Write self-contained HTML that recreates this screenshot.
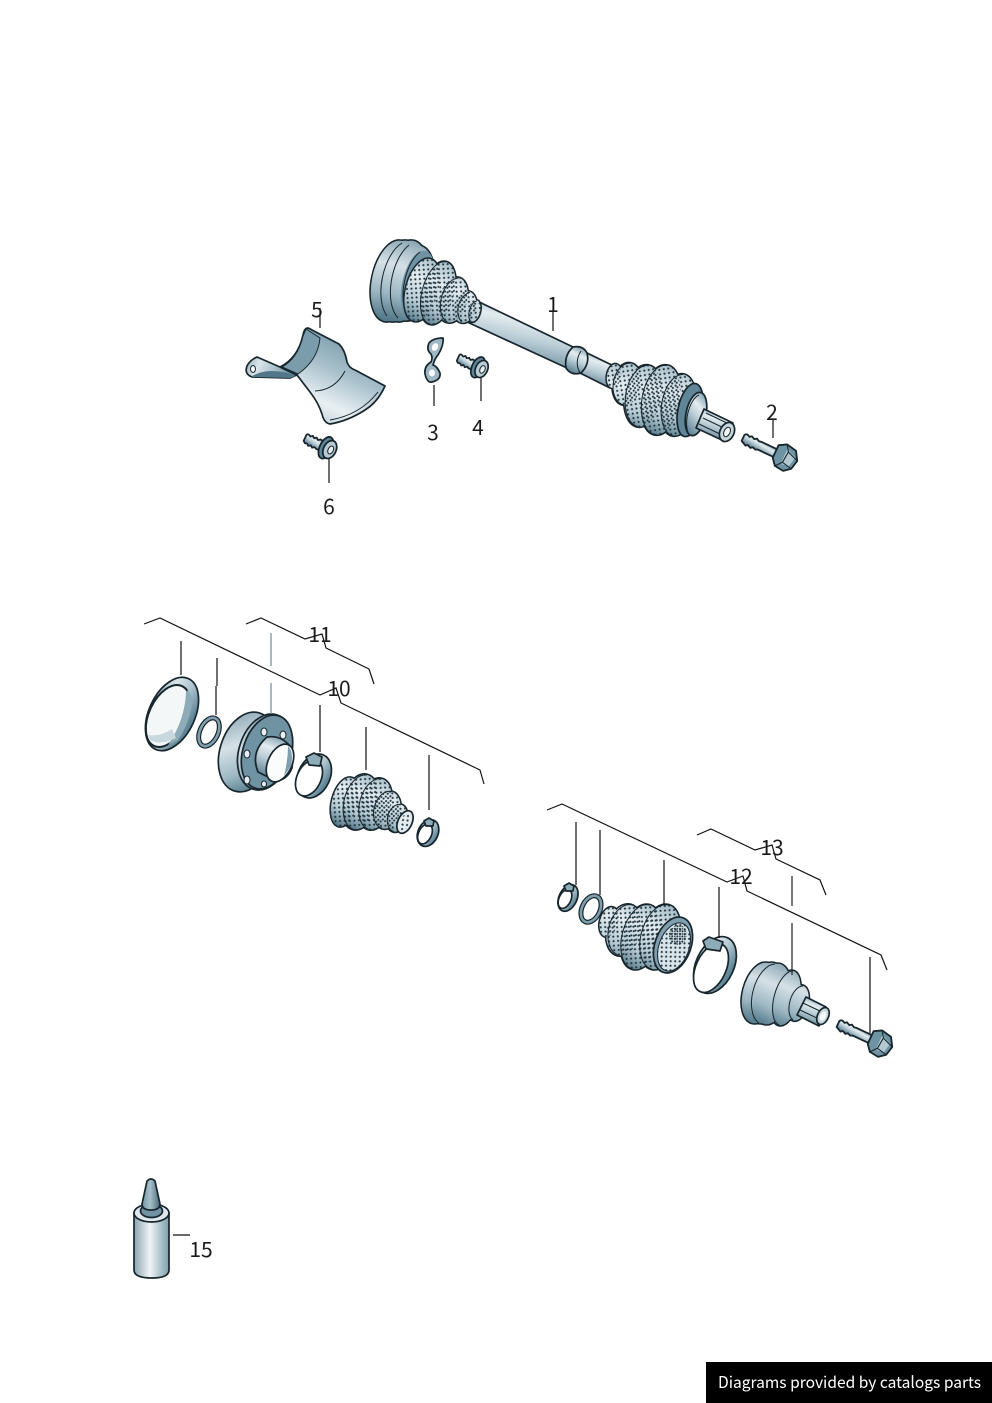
<!DOCTYPE html>
<html><head><meta charset="utf-8"><style>
html,body{margin:0;padding:0;background:#fff}
svg{display:block}
text{font-family:"Noto Sans CJK SC","DejaVu Sans","Liberation Sans",sans-serif;font-size:21px;fill:#1a1a1a}
.o{stroke:#17252c;stroke-width:1.7;stroke-linejoin:round}
.t{stroke:#17252c;stroke-width:1;fill:none}
.l{stroke:#111;stroke-width:1.2;fill:none}
</style></head><body>
<svg width="992" height="1403" viewBox="0 0 992 1403" xmlns="http://www.w3.org/2000/svg">
<defs>
<linearGradient id="g" x1=".65" y1="0" x2=".3" y2="1"><stop offset="0" stop-color="#7f9fae"/><stop offset=".3" stop-color="#e4ecef"/><stop offset=".55" stop-color="#b8ccd5"/><stop offset="1" stop-color="#527789"/></linearGradient>
<linearGradient id="h" x1="0" y1="0" x2="1" y2=".2"><stop offset="0" stop-color="#8eabb8"/><stop offset=".3" stop-color="#dbe5ea"/><stop offset=".65" stop-color="#aac1cc"/><stop offset="1" stop-color="#5f8596"/></linearGradient>
<linearGradient id="b" x1="0" y1="0" x2="1" y2="0"><stop offset="0" stop-color="#8aa4b0"/><stop offset=".45" stop-color="#f0f4f6"/><stop offset="1" stop-color="#7e9dab"/></linearGradient>
<linearGradient id="n" x1="0" y1="0" x2="1" y2="0"><stop offset="0" stop-color="#6f93a3"/><stop offset=".45" stop-color="#a9c0ca"/><stop offset="1" stop-color="#46697a"/></linearGradient>
<linearGradient id="s" x1=".75" y1=".05" x2=".3" y2=".95"><stop offset="0" stop-color="#6f93a3"/><stop offset=".45" stop-color="#a8c0cb"/><stop offset=".8" stop-color="#e9f0f3"/><stop offset="1" stop-color="#c4d5dc"/></linearGradient>
<linearGradient id="j" x1=".2" y1="0" x2=".7" y2="1"><stop offset="0" stop-color="#8aa6b3"/><stop offset=".4" stop-color="#d6e1e6"/><stop offset=".75" stop-color="#9db7c3"/><stop offset="1" stop-color="#547a8b"/></linearGradient>
<linearGradient id="gC" gradientUnits="userSpaceOnUse" x1="405" y1="240" x2="392" y2="322"><stop offset="0" stop-color="#8aa6b3"/><stop offset=".35" stop-color="#d6e1e6"/><stop offset=".7" stop-color="#9db7c3"/><stop offset="1" stop-color="#4f7485"/></linearGradient>
<linearGradient id="gJ" gradientUnits="userSpaceOnUse" x1="775" y1="962" x2="762" y2="1026"><stop offset="0" stop-color="#8aa6b3"/><stop offset=".35" stop-color="#d6e1e6"/><stop offset=".7" stop-color="#9db7c3"/><stop offset="1" stop-color="#4f7485"/></linearGradient>
<linearGradient id="gL" gradientUnits="userSpaceOnUse" x1="445" y1="262" x2="427" y2="326"><stop offset="0" stop-color="#a9c0ca"/><stop offset=".35" stop-color="#e4ecef"/><stop offset=".7" stop-color="#b8ccd5"/><stop offset="1" stop-color="#4f7485"/></linearGradient>
<linearGradient id="gR" gradientUnits="userSpaceOnUse" x1="660" y1="365" x2="650" y2="437"><stop offset="0" stop-color="#a9c0ca"/><stop offset=".35" stop-color="#e4ecef"/><stop offset=".7" stop-color="#b8ccd5"/><stop offset="1" stop-color="#4f7485"/></linearGradient>
<linearGradient id="g10" gradientUnits="userSpaceOnUse" x1="368" y1="775" x2="355" y2="830"><stop offset="0" stop-color="#a9c0ca"/><stop offset=".35" stop-color="#e4ecef"/><stop offset=".7" stop-color="#b8ccd5"/><stop offset="1" stop-color="#4f7485"/></linearGradient>
<linearGradient id="g12" gradientUnits="userSpaceOnUse" x1="650" y1="903" x2="630" y2="970"><stop offset="0" stop-color="#a9c0ca"/><stop offset=".35" stop-color="#e4ecef"/><stop offset=".7" stop-color="#b8ccd5"/><stop offset="1" stop-color="#4f7485"/></linearGradient>
<pattern id="d" width="6.4" height="6.4" patternUnits="userSpaceOnUse" patternTransform="rotate(26)"><circle cx="1.6" cy="1.6" r="1.05" fill="#20343e"/><circle cx="4.8" cy="4.8" r="1.05" fill="#20343e"/></pattern>
<pattern id="dd" width="3.6" height="3.6" patternUnits="userSpaceOnUse" patternTransform="rotate(26)"><circle cx="1" cy="1" r="1" fill="#20343e"/><circle cx="2.8" cy="2.8" r=".8" fill="#20343e"/></pattern>
<g id="eL"><ellipse cx="422" cy="290" rx="16" ry="32" transform="rotate(15 422 290)"/><ellipse cx="438" cy="293" rx="16" ry="32" transform="rotate(15 438 293)"/><ellipse cx="453" cy="300" rx="14" ry="23" transform="rotate(15 453 300)"/><ellipse cx="465" cy="307" rx="11" ry="16" transform="rotate(15 465 307)"/><ellipse cx="474" cy="311" rx="6" ry="11" transform="rotate(15 474 311)"/></g>
<g id="eR"><ellipse cx="614" cy="376" rx="7" ry="12" transform="rotate(10 614 376)"/><ellipse cx="627" cy="384" rx="14" ry="21" transform="rotate(10 627 384)"/><ellipse cx="643" cy="396" rx="18" ry="31" transform="rotate(10 643 396)"/><ellipse cx="661" cy="400" rx="19" ry="35" transform="rotate(10 661 400)"/><ellipse cx="678" cy="405" rx="17" ry="31" transform="rotate(10 678 405)"/></g>
<g id="e10"><ellipse cx="345" cy="802" rx="13" ry="25" transform="rotate(15 345 802)"/><ellipse cx="360" cy="802" rx="17" ry="28" transform="rotate(15 360 802)"/><ellipse cx="375" cy="804" rx="16" ry="26" transform="rotate(15 375 804)"/><ellipse cx="387" cy="810" rx="13" ry="19" transform="rotate(15 387 810)"/><ellipse cx="397" cy="818" rx="10" ry="14" transform="rotate(15 397 818)"/></g>
<g id="e12"><ellipse cx="609" cy="922" rx="9" ry="15" transform="rotate(15 609 922)"/><ellipse cx="624" cy="930" rx="17" ry="26" transform="rotate(15 624 930)"/><ellipse cx="641" cy="937" rx="19" ry="33" transform="rotate(15 641 937)"/><ellipse cx="660" cy="937" rx="19" ry="33" transform="rotate(15 660 937)"/></g>
<g id="eJ"><ellipse cx="760" cy="993" rx="17" ry="31" transform="rotate(15 760 993)"/><ellipse cx="766" cy="993" rx="17" ry="31" transform="rotate(15 766 993)"/><ellipse cx="772" cy="994" rx="17" ry="31" transform="rotate(15 772 994)"/><ellipse cx="786" cy="998" rx="13" ry="28" transform="rotate(15 786 998)"/><ellipse cx="798" cy="1003" rx="10" ry="18" transform="rotate(15 798 1003)"/></g>
<g id="eC"><ellipse cx="393" cy="281" rx="21" ry="41" transform="rotate(12 393 281)"/><ellipse cx="399" cy="281" rx="21" ry="41" transform="rotate(12 399 281)"/><ellipse cx="405" cy="281" rx="21" ry="41" transform="rotate(12 405 281)"/><ellipse cx="412" cy="283" rx="21" ry="38" transform="rotate(12 412 283)"/></g>
<g id="hex">
<path class="o" fill="url(#g)" d="M0-3 Q1-5 3-4.500 L5-3.500 7-5 10-3.500 12-5 15-3.500 17-4 36-4 36 4 17 4 15 5 12 4 10 5.500 7 4 5 5.500 3 4.500 0 3Z"/>
<path class="o" fill="#6e93a3" d="M33-8 L40-12 50-10 55-2 53 7 47 12 38 11 33 5Z"/>
<path fill="#b4c8d1" d="M42-8 L52-4 50 6 42 7Z"/>
<path class="t" d="M40-12 L44-6 43 5 38 11 M44-6 L55-2 M43 5 L53 7"/>
</g>
<g id="flange">
<path class="o" fill="url(#g)" d="M0-3 Q0-4.500 2-4.500 L4-3.500 6-5 8-3.500 10-5 12-3.500 14-5 22-4.500 22 4.500 14 5 12 4 10 5.500 8 4 6 5.500 4 4 2 4.500 0 3Z"/>
<ellipse cx="22" cy="0" rx="6" ry="11" fill="#5f8596" class="o"/>
<ellipse cx="26" cy="0" rx="6" ry="9" fill="#b6cad3" class="o"/>
<ellipse cx="27" cy="0" rx="2.500" ry="4" fill="#e8eff2" stroke="#17252c"/>
</g>
</defs>
<rect width="992" height="1403" fill="#fff"/>

<!-- shaft 1 -->
<path class="o" fill="url(#g)" d="M475 300 L573 347 567 368 465 321Z"/>
<path class="o" fill="url(#g)" d="M585 352 L620 369 610 388 578 372Z"/>
<path class="o" fill="url(#g)" d="M573 347 Q583 345 587 353 Q590 364 581 373 Q571 376 566 368 Q564 355 573 347Z"/>
<path class="t" d="M581 351 Q574 362 580 373"/>
<!-- left cup -->
<use href="#eC" fill="#17252c" stroke="#17252c" stroke-width="3"/>
<use href="#eC" fill="url(#gC)"/>
<ellipse cx="418" cy="285" rx="16" ry="35" transform="rotate(12 418 285)" fill="#6f93a3"/>
<ellipse cx="422" cy="287" rx="11" ry="28" transform="rotate(12 422 287)" fill="#9db7c3"/>
<path class="t" d="M402 243 A21 41 12 0 0 387 316 M409 245 A21 41 12 0 0 398 318 M420 252 A16 35 12 0 0 406 312"/>
<!-- left boot -->
<use href="#eL" fill="#17252c" stroke="#17252c" stroke-width="3"/>
<use href="#eL" fill="url(#gL)"/>
<use href="#eL" fill="url(#d)"/>
<path class="t" d="M446.300 262 A16 32 15 0 0 429.700 324 M458.700 278 A14 23 15 0 0 447.300 322 M469.900 292.500 A11 16 15 0 0 462.100 322 M477 301 A6 11 15 0 0 471 321.600"/>
<!-- right boot -->
<use href="#eR" fill="#17252c" stroke="#17252c" stroke-width="3"/>
<use href="#eR" fill="url(#gR)"/>
<use href="#eR" fill="url(#d)"/>
<path class="t" d="M630.500 363.300 A14 21 10 0 0 623.500 404.700 M648.400 365.500 A18 31 10 0 0 637.600 426.500 M667.100 365.500 A19 35 10 0 0 654.900 434.500 M683.400 374.500 A17 31 10 0 0 672.600 435.500"/>
<ellipse class="o" cx="690" cy="410" rx="12" ry="27" transform="rotate(12 690 410)" fill="#5f8596"/>
<ellipse class="o" cx="696" cy="414" rx="10" ry="22" transform="rotate(12 696 414)" fill="url(#g)"/>
<path class="t" d="M699 395 A10 22 12 0 0 690 436"/>
<path class="o" fill="url(#g)" d="M704 409 L733 423 724 441 696 428Z"/>
<path class="t" d="M703 418 L726 429 M699 424 L722 435 M706 413 L729 424"/>
<ellipse class="o" cx="727" cy="432" rx="7" ry="10" transform="rotate(25 727 432)" fill="#c6d6dd"/>
<ellipse cx="727" cy="432" rx="3" ry="5" transform="rotate(25 727 432)" fill="#f5f8f9" stroke="#17252c"/>

<use href="#hex" transform="translate(743 438) rotate(25) scale(1.07)"/>
<use href="#flange" transform="translate(458 358) rotate(25)"/>
<use href="#flange" transform="translate(305 438) rotate(25) scale(1.05)"/>
<use href="#hex" transform="translate(838 1024) rotate(25) scale(1.07)"/>

<!-- plate 3 -->
<path class="o" fill="#9fb8c3" d="M443 338 Q433 338 429 343 Q426 350 431 354 Q433 358 431 362 Q424 366 425 374 Q427 383 432 382 Q441 380 440 373 Q437 366 433 365 Q435 358 438 355 Q444 345 443 338Z"/>
<ellipse cx="435" cy="347" rx="3" ry="4" fill="#fff" transform="rotate(30 435 347)"/><ellipse cx="432" cy="373" rx="3" ry="3.500" fill="#fff"/>

<!-- heat shield 5 -->
<path class="o" fill="url(#h)" d="M257 357 Q250 360 247 366 Q244 374 252 377 L290 378 L297 375 L280 367Z"/>
<path d="M252 376 Q270 366 296 376 L290 378 L252 377Z" fill="#527789"/>
<ellipse cx="253" cy="369" rx="2.500" ry="3.500" fill="#fff" stroke="#17252c"/>
<path class="o" fill="url(#s)" d="M307 328 Q309 328 312 330 L339 344 Q345 350 347 362 Q349 368 355 370 L385 386 Q378 402 365 410 Q348 421 330 424 Q324 423 322 414 Q318 402 310 392 L297 375 L280 367 Q298 358 303 335 Q304 329 307 328Z"/>
<path class="t" d="M306 329 L320 338 Q318 360 298 374 L282 367 Q298 358 303 336Z" style="fill:#7a9cab"/>
<path class="t" d="M345 371 Q335 390 315 391 M378 392 Q360 415 330 420"/>

<!-- ring -->
<ellipse class="o" cx="172" cy="714" rx="23" ry="39" transform="rotate(25 172 714)" fill="url(#h)"/>
<ellipse cx="168" cy="716" rx="19" ry="33" transform="rotate(25 168 716)" fill="#f4f7f8" stroke="#17252c" stroke-width="2"/>
<path d="M188 690 Q192 695 192 703 Q190 722 178 740 L168 745 Q185 720 186 692Z" fill="#8eabb8"/>
<path d="M148 735 Q160 737 172 729 L176 738 Q160 746 150 740Z" fill="#c9d8de"/>
<ellipse cx="209" cy="732" rx="9" ry="15" transform="rotate(25 209 732)" fill="none" stroke="#17252c" stroke-width="5"/>
<ellipse cx="209" cy="732" rx="9" ry="15" transform="rotate(25 209 732)" fill="none" stroke="#7f9fae" stroke-width="2.600"/>

<!-- hub -->
<ellipse class="o" cx="247" cy="752" rx="27" ry="41" transform="rotate(18 247 752)" fill="url(#j)"/>
<ellipse class="o" cx="265" cy="752" rx="26" ry="39" transform="rotate(18 265 752)" fill="url(#j)"/>
<ellipse class="o" cx="267" cy="752" rx="24" ry="38" transform="rotate(18 267 752)" fill="#6f93a3"/>
<path class="o" fill="url(#g)" d="M267 737 Q280 735 289 745 Q294 752 292 768 Q286 782 274 780 L258 772 Q250 752 267 737Z"/>
<ellipse class="o" cx="280" cy="763" rx="12" ry="20" transform="rotate(25 280 763)" fill="#fbfcfc"/>
<path d="M288 746 Q294 752 291 766 L284 776 Q288 760 288 746Z" fill="#7f9fae"/>
<g fill="#e8eff2" stroke="#17252c"><ellipse cx="264" cy="732" rx="3" ry="4"/><ellipse cx="283" cy="735" rx="3" ry="4"/><ellipse cx="247" cy="754" rx="3" ry="4"/><ellipse cx="247" cy="780" rx="3" ry="4"/><ellipse cx="264" cy="784" rx="2.500" ry="3"/></g>

<!-- clamp 1 -->
<ellipse class="o" cx="314" cy="776" rx="16" ry="23" transform="rotate(25 314 776)" fill="url(#h)"/>
<ellipse class="o" cx="309" cy="778" rx="12" ry="19" transform="rotate(25 309 778)" fill="#fff"/>
<path class="o" fill="#8eabb8" d="M306 757 L314 753 322 757 320 766 309 765Z"/>

<!-- boot 10 -->
<use href="#e10" fill="#17252c" stroke="#17252c" stroke-width="3"/>
<use href="#e10" fill="url(#g10)"/>
<use href="#e10" fill="url(#d)"/>
<path class="t" d="M367.200 775 A17 28 15 0 0 352.800 829 M381.700 778.900 A16 26 15 0 0 368.300 829.100 M391.900 791.600 A13 19 15 0 0 382.100 828.400 M400.600 804.500 A10 14 15 0 0 393.400 831.500"/>
<ellipse class="o" cx="405" cy="822" rx="7" ry="12" transform="rotate(25 405 822)" fill="#e4ecef"/>
<ellipse cx="405" cy="822" rx="5" ry="9" transform="rotate(25 405 822)" fill="url(#d)"/>

<!-- small clamps -->
<ellipse class="o" cx="428" cy="833" rx="10" ry="14" transform="rotate(25 428 833)" fill="url(#h)"/>
<ellipse class="o" cx="425" cy="834" rx="6.500" ry="10.500" transform="rotate(25 425 834)" fill="#fff"/>
<path class="o" fill="#8eabb8" d="M424 821 L429 818 434 821 433 826 426 826Z"/>

<ellipse class="o" cx="568" cy="898" rx="9" ry="14" transform="rotate(25 568 898)" fill="url(#h)"/>
<ellipse class="o" cx="565" cy="899" rx="6" ry="10" transform="rotate(25 565 899)" fill="#fff"/>
<path class="o" fill="#8eabb8" d="M564 886 L569 883 574 886 573 891 566 891Z"/>
<ellipse cx="591" cy="909" rx="9" ry="14" transform="rotate(25 591 909)" fill="none" stroke="#17252c" stroke-width="5"/>
<ellipse cx="591" cy="909" rx="9" ry="14" transform="rotate(25 591 909)" fill="none" stroke="#7f9fae" stroke-width="2.600"/>

<!-- boot 12 -->
<use href="#e12" fill="#17252c" stroke="#17252c" stroke-width="3"/>
<use href="#e12" fill="url(#g12)"/>
<use href="#e12" fill="url(#d)"/>
<path class="t" d="M631.700 904.900 A17 26 15 0 0 618.300 955.100 M649.500 905.100 A19 33 15 0 0 632.500 968.900 M668.500 905.100 A19 33 15 0 0 651.500 968.900"/>
<ellipse class="o" cx="673" cy="945" rx="18" ry="29" transform="rotate(20 673 945)" fill="#7f9fae"/>
<ellipse cx="674" cy="947" rx="15" ry="25" transform="rotate(20 674 947)" fill="#d9e4e9" stroke="#17252c"/>
<ellipse cx="674" cy="947" rx="15" ry="25" transform="rotate(20 674 947)" fill="url(#d)"/>
<ellipse cx="678" cy="935" rx="9" ry="10" transform="rotate(20 678 935)" fill="url(#dd)"/>

<!-- clamp 12 -->
<ellipse class="o" cx="715" cy="965" rx="19" ry="30" transform="rotate(25 715 965)" fill="url(#h)"/>
<ellipse class="o" cx="711" cy="968" rx="15" ry="26" transform="rotate(25 711 968)" fill="#fff"/>
<path class="o" fill="#8eabb8" d="M703 941 L709 937 723 942 720 951 706 949Z"/>

<!-- joint -->
<use href="#eJ" fill="#17252c" stroke="#17252c" stroke-width="3"/>
<use href="#eJ" fill="url(#gJ)"/>
<path class="t" d="M775 964 A17 31 15 0 0 759 1023 M793 971 A13 28 15 0 0 779 1025 M803 986 A10 18 15 0 0 793 1020"/>
<path class="o" fill="url(#g)" d="M806 997 L826 1007 819 1026 797 1015Z"/>
<path class="t" d="M803 1003 L822 1012 M800 1010 L819 1019"/>
<ellipse class="o" cx="823" cy="1016" rx="5.500" ry="9" transform="rotate(25 823 1016)" fill="#c6d6dd"/>
<ellipse cx="823" cy="1016" rx="3" ry="5" transform="rotate(25 823 1016)" fill="#f5f8f9"/>

<!-- bottle 15 -->
<path class="o" fill="url(#b)" d="M134 1213 L134 1270 Q134 1278 152 1278 Q169 1278 169 1270 L169 1213Z"/>
<ellipse class="o" cx="151.500" cy="1213" rx="17.500" ry="9" fill="#dfe8ec"/>
<ellipse class="o" cx="151.500" cy="1211" rx="11" ry="6.500" fill="#6f93a3"/>
<path class="o" fill="url(#n)" d="M147 1181 Q151 1177 155 1181 L160 1204 Q160 1210 151 1210 Q142 1210 142 1204Z"/>

<!-- leaders -->
<g class="l">
<path d="M553 310V331M773 420V438M434 385V406M481 378V401M320 308V328M329 458V483M173 1235H190"/>
<path d="M181 641V675M217 658V686M216 686V715M320 705V752M366 727V770M429 755V810"/>
<path d="M576 822V885M600 830V895M664 860V905M719 887V938M870 957V1033"/>
<path d="M144 624L160 618 320 695 336 688 341 703 480 770 484 784"/>
<path d="M246 624L261 618 305 639 322 634 326 648 369 669 374 684"/>
<path d="M547 810L562 804 727 882 743 876 747 891 881 955 887 970"/>
<path d="M697 835L711 829 755 850 772 845 776 859 820 880 826 895"/>
</g>
<path d="M271 633V666M271 683V714" stroke="#6f8a97" stroke-width="1.200"/>
<path d="M792 876V906M792 923V975" stroke="#222" stroke-width="1.200"/>

<!-- labels -->
<text x="553" y="312" text-anchor="middle">1</text>
<text x="772" y="420" text-anchor="middle">2</text>
<text x="433" y="440" text-anchor="middle">3</text>
<text x="478" y="435" text-anchor="middle">4</text>
<text x="317" y="317" text-anchor="middle">5</text>
<text x="329" y="514" text-anchor="middle">6</text>
<text x="339" y="696" text-anchor="middle">10</text>
<text x="320" y="642" text-anchor="middle">11</text>
<text x="741" y="884" text-anchor="middle">12</text>
<text x="772" y="855" text-anchor="middle">13</text>
<text x="201" y="1257" text-anchor="middle">15</text>

<rect x="706" y="1362" width="286" height="41" fill="#000"/>
<text x="718" y="1388" style="font-size:16px;fill:#fff" textLength="263" lengthAdjust="spacingAndGlyphs">Diagrams provided by catalogs parts</text>
</svg>
</body></html>
